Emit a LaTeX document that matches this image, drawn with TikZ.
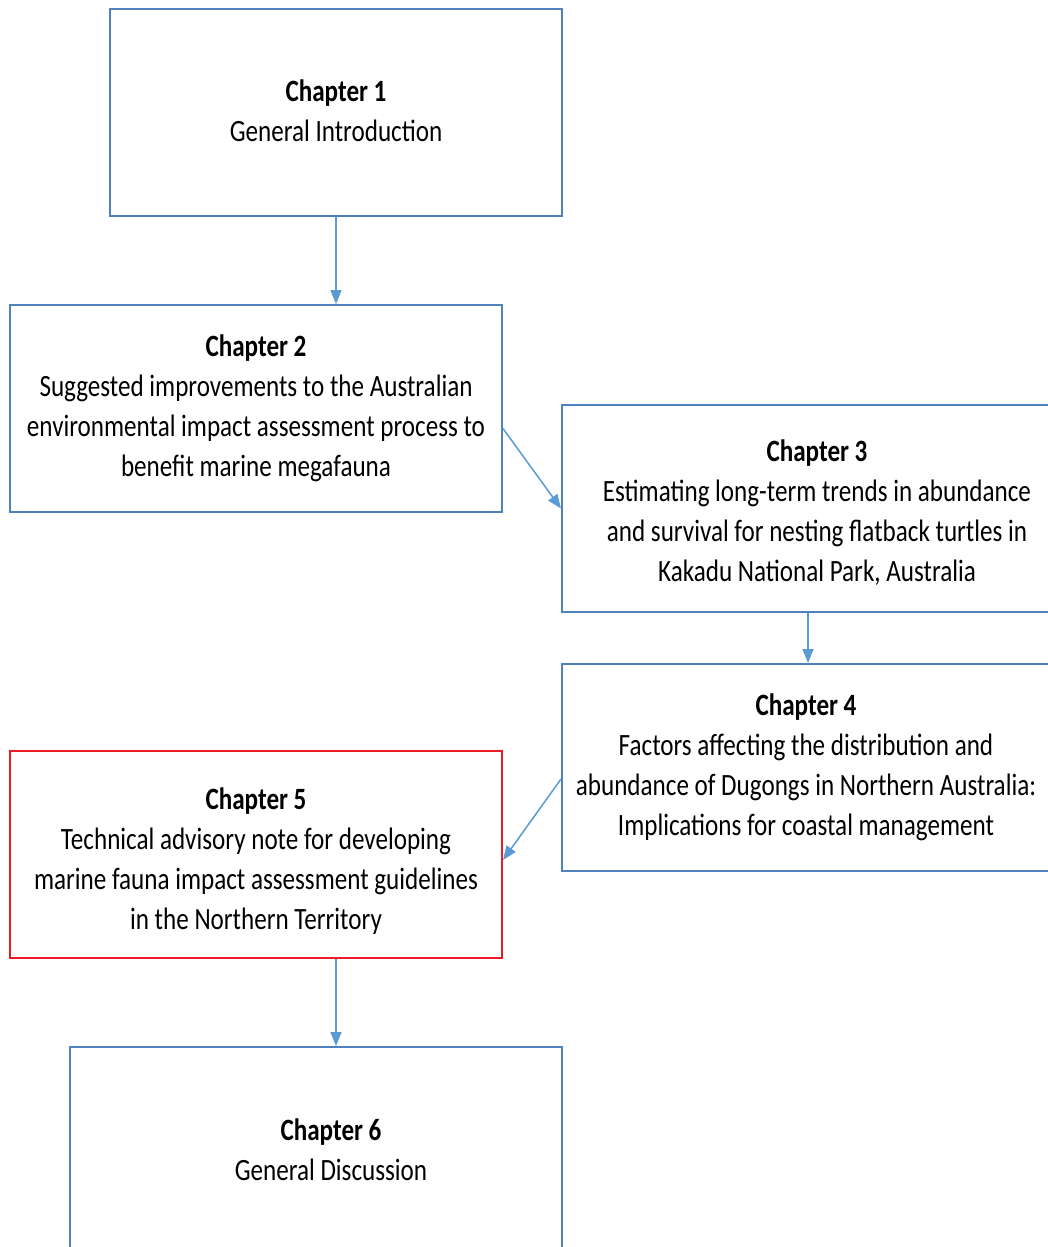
\documentclass[tikz,border=0pt]{standalone}
\usepackage{fontspec}
\setmainfont{Carlito}[FakeStretch=0.81]
\usetikzlibrary{arrows.meta}
\definecolor{boxblue}{RGB}{79,129,189}
\definecolor{arrblue}{RGB}{91,155,213}
\definecolor{boxred}{RGB}{237,28,36}
\tikzset{
  chbox/.style={draw=boxblue, line width=2pt, fill=white, inner sep=0pt,
    minimum height=207pt},
  redbox/.style={chbox, draw=boxred},
  chtext/.style={inner sep=0pt, align=center, font=\fontsize{31}{40}\selectfont},
  conn/.style={draw=arrblue, line width=1.5pt, -{Triangle[length=14pt,width=11pt]}}
}
\begin{document}
\begin{tikzpicture}[x=1pt,y=-1pt]
\useasboundingbox (0,0) rectangle (1048,1247);
\clip (0,0) rectangle (1048,1247);
\fill[white] (0,0) rectangle (1048,1247);
\node[chbox, minimum width=452pt] (b1) at (336,112.5) {};
\node[chbox, minimum width=492pt] (b2) at (256,408.5) {};
\node[chbox, minimum width=510pt] (b3) at (817,508.5) {};
\node[chbox, minimum width=492pt] (b4) at (808,767.5) {};
\node[redbox, minimum width=492pt] (b5) at (256,854.5) {};
\node[chbox, minimum width=492pt] (b6) at (316,1150.5) {};
\node[chtext] (t1) at (336,110.5) {\textbf{Chapter 1}\\General Introduction};
\node[chtext] (t2) at (256,408) {\textbf{Chapter 2}\\Suggested improvements to the Australian\\environmental impact assessment process to\\benefit marine megafauna};
\node[chtext] (t3) at (817,513) {\textbf{Chapter 3}\\Estimating long-term trends in abundance\\and survival for nesting flatback turtles in\\Kakadu National Park, Australia};
\node[chtext] (t4) at (806,767.5) {\textbf{Chapter 4}\\Factors affecting the distribution and\\abundance of Dugongs in Northern Australia:\\Implications for coastal management};
\node[chtext] (t5) at (256,861) {\textbf{Chapter 5}\\Technical advisory note for developing\\marine fauna impact assessment guidelines\\in the Northern Territory};
\node[chtext] (t6) at (331,1150) {\textbf{Chapter 6}\\General Discussion};
\draw[conn] (b1.south) -- (b2.north -| b1.south);
\draw[conn] ([yshift=-20pt]b2.east) -- (b3.west);
\draw[conn] (b3.south -| b4.north) -- (b4.north);
\draw[conn] ([yshift=-11.5pt]b4.west) -- ([yshift=-5.5pt]b5.east);
\draw[conn] (b5.south -| b1.south) -- (b6.north -| b1.south);
\end{tikzpicture}
\end{document}
